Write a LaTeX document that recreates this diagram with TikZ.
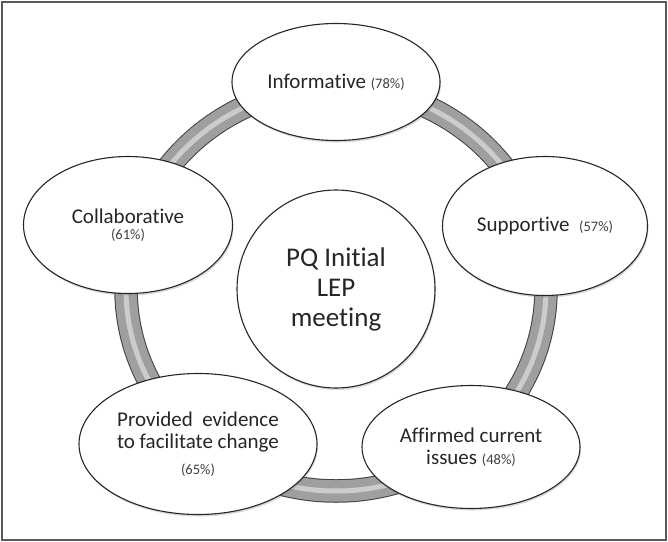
\documentclass[tikz,border=0pt]{standalone}
\usepackage{fontspec}
\setmainfont[Ligatures=NoCommon]{Carlito}
\usetikzlibrary{shapes.geometric, shadows, backgrounds}

\newcommand{\share}[1]{{\fontsize{14.5}{16}\selectfont\color{black!75}(#1\%)}}

\begin{document}
\begin{tikzpicture}[x=1pt, y=-1pt,
    theme/.style={draw=black!85, line width=1.1pt, ellipse, fill=white, inner sep=0pt,
      align=center, text=black!85, font=\fontsize{21}{22}\selectfont,
      drop shadow={shadow xshift=1pt, shadow yshift=-2pt, opacity=0.3}},
    ringrim/.style={draw=black!75, line width=23.5pt},
    ringband/.style={draw=gray!75, line width=21.5pt},
    ringshine/.style={draw=gray!40, line width=5pt},
    frame/.style={draw=black!65, line width=2pt}]
        \useasboundingbox (0,0) rectangle (668,541);
        \draw[frame] (2,1.5) rectangle (666,539.5);

        % Hub
        \node[theme, circle, minimum size=198pt, font=\fontsize{27}{30}\selectfont] (hub) at (336,289) {PQ Initial\\LEP\\meeting};

        % Themes round the ring
        \node[theme, minimum width=208pt, minimum height=117pt] (info) at (336,82) {Informative \share{78}};
        \node[theme, minimum width=205pt, minimum height=139pt] (supp) at (545,226) {Supportive \ \share{57}};
        \node[theme, minimum width=209pt, minimum height=137pt] (collab) at (128,225) {Collaborative\\[-6pt]\share{61}};
        \node[theme, minimum width=238pt, minimum height=141pt] (evid) at (198,444) {Provided \ evidence\\to facilitate change\\[4pt]\share{65}};
        \node[theme, minimum width=218pt, minimum height=123pt] (affirm) at (471,447) {Affirmed current\\issues \share{48}};

        % Ring
        \begin{scope}[on background layer]
            \draw[ringrim] (hub.center) ellipse [x radius=210pt, y radius=202pt];
            \draw[ringband] (hub.center) ellipse [x radius=210pt, y radius=202pt];
            \draw[ringshine] (hub.center) ellipse [x radius=210pt, y radius=202pt];
        \end{scope}
    \end{tikzpicture}
\end{document}
